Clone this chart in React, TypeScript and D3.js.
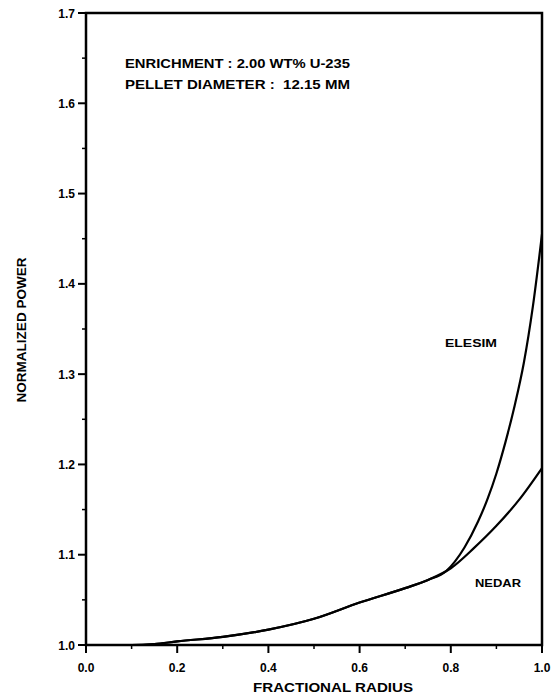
import React from "react";
import * as d3 from "d3";

const nedarRadius = [0, 0.1, 0.15, 0.2, 0.3, 0.4, 0.5, 0.6, 0.7, 0.75, 0.8, 0.85, 0.9, 0.95, 1.0];
const nedarPower = [1.0, 1.0, 1.001, 1.004, 1.009, 1.017, 1.029, 1.047, 1.063, 1.072, 1.085, 1.107, 1.132, 1.161, 1.196];

const elesimRadius = [0, 0.1, 0.15, 0.2, 0.3, 0.4, 0.5, 0.6, 0.7, 0.75, 0.79, 0.83, 0.86, 0.88, 0.9, 0.92, 0.94, 0.96, 0.98, 1.0];
const elesimPower = [1.0, 1.0, 1.001, 1.004, 1.009, 1.017, 1.029, 1.047, 1.063, 1.072, 1.082, 1.108, 1.137, 1.161, 1.19, 1.225, 1.265, 1.312, 1.375, 1.455];

const xTicks = [0, 0.2, 0.4, 0.6, 0.8, 1.0];
const xMinor = [0.1, 0.3, 0.5, 0.7, 0.9];
const yTicks = [1.0, 1.1, 1.2, 1.3, 1.4, 1.5, 1.6, 1.7];
const yMinor = [1.05, 1.15, 1.25, 1.35, 1.45, 1.55, 1.65];

const annotation = ["ENRICHMENT : 2.00 WT% U-235", "PELLET DIAMETER :  12.15 MM"];

export default function App() {
  const x = d3.scaleLinear().domain([0, 1]).range([86, 542]);
  const y = d3.scaleLinear().domain([1, 1.7]).range([645, 13]);
  const line = d3
    .line<[number, number]>()
    .x((d) => x(d[0]))
    .y((d) => y(d[1]))
    .curve(d3.curveMonotoneX);
  const nedar = nedarRadius.map((r, i) => [r, nedarPower[i]] as [number, number]);
  const elesim = elesimRadius.map((r, i) => [r, elesimPower[i]] as [number, number]);
  const font = "'Liberation Sans', Arial, sans-serif";
  return (
    <svg
      width={556}
      height={697}
      style={{ position: "fixed", left: 0, top: 0, background: "#fff" }}
      fontFamily={font}
      fontWeight="bold"
    >
      <rect x={0} y={0} width={556} height={697} fill="#fff" />
      {/* frame */}
      <rect
        x={x(0)}
        y={y(1.7)}
        width={x(1) - x(0)}
        height={y(1) - y(1.7)}
        fill="none"
        stroke="#000"
        strokeWidth={2.5}
      />
      {/* x ticks */}
      {xTicks.map((t) => (
        <g key={"xt" + t}>
          <line x1={x(t)} x2={x(t)} y1={y(1)} y2={y(1) + 8} stroke="#000" strokeWidth={2} />
          <text x={x(t)} y={y(1) + 27} textAnchor="middle" fontSize={12}>
            {t.toFixed(1)}
          </text>
        </g>
      ))}
      {xMinor.map((t) => (
        <line key={"xm" + t} x1={x(t)} x2={x(t)} y1={y(1)} y2={y(1) + 4} stroke="#000" strokeWidth={1.5} />
      ))}
      {/* y ticks */}
      {yTicks.map((t) => (
        <g key={"yt" + t}>
          <line x1={x(0) - 8} x2={x(0)} y1={y(t)} y2={y(t)} stroke="#000" strokeWidth={2} />
          <text x={x(0) - 11} y={y(t) + 4.5} textAnchor="end" fontSize={12}>
            {t.toFixed(1)}
          </text>
        </g>
      ))}
      {yMinor.map((t) => (
        <line key={"ym" + t} x1={x(0) - 4} x2={x(0)} y1={y(t)} y2={y(t)} stroke="#000" strokeWidth={1.5} />
      ))}
      {/* axis titles */}
      <text x={333} y={692} textAnchor="middle" fontSize={12} textLength={160} lengthAdjust="spacingAndGlyphs">
        FRACTIONAL RADIUS
      </text>
      <text
        transform={`translate(26,330) rotate(-90)`}
        textAnchor="middle"
        fontSize={12}
        textLength={145}
        lengthAdjust="spacingAndGlyphs"
      >
        NORMALIZED POWER
      </text>
      {/* curves */}
      <path d={line(nedar) || ""} fill="none" stroke="#000" strokeWidth={2.2} />
      <path d={line(elesim) || ""} fill="none" stroke="#000" strokeWidth={2.2} />
      {/* labels */}
      <text x={445} y={347} fontSize={11.5} textLength={52} lengthAdjust="spacingAndGlyphs">
        ELESIM
      </text>
      <text x={475} y={587} fontSize={11.5} textLength={46} lengthAdjust="spacingAndGlyphs">
        NEDAR
      </text>
      {annotation.map((s, i) => (
        <text
          key={s}
          x={125}
          y={68 + i * 21}
          fontSize={12}
          textLength={225}
          lengthAdjust="spacingAndGlyphs"
          xmlSpace="preserve"
        >
          {s}
        </text>
      ))}
    </svg>
  );
}
